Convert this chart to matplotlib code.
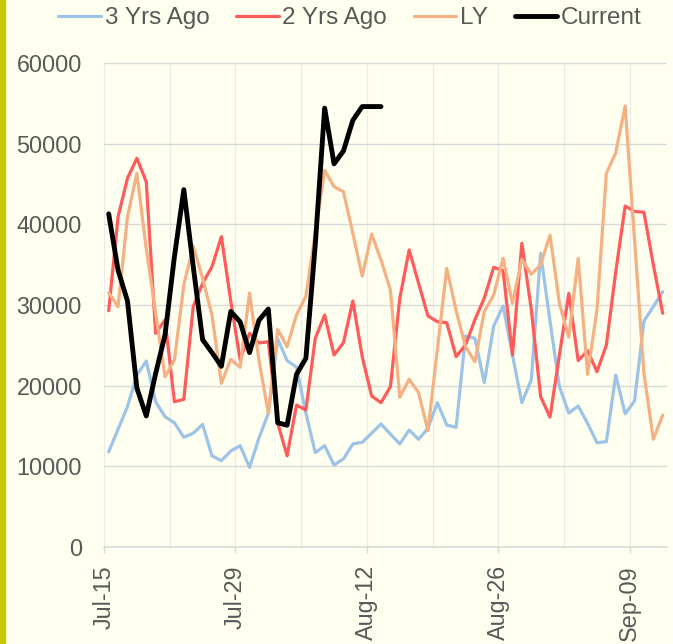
import numpy as np
import pandas as pd
import matplotlib
matplotlib.use('Agg')
import matplotlib.pyplot as plt
from matplotlib.patches import Rectangle

# daily values, starting Jul-15
dates = pd.date_range('2023-07-15', periods=60, freq='D')

three_yrs_ago = [11800, 14600, 17400, 21300, 23050, 18000, 16150, 15400, 13600, 14100,
                 15200, 11300, 10700, 11900, 12560, 9880, 13500, 16570, 25800, 23100,
                 22300, 16600, 11700, 12560, 10170, 10910, 12770, 12980, 14100, 15250,
                 14000, 12770, 14500, 13350, 14710, 17890, 15120, 14840, 26150, 25870,
                 20370, 27390, 29870, 23800, 17890, 20700, 36400, 28000, 19870, 16600,
                 17480, 15330, 12930, 13050, 21320, 16500, 18100, 28000, 29800, 31650]

two_yrs_ago = [29290, 40950, 45710, 48190, 45280, 26490, 28140, 18010, 18300, 29790,
               32680, 34750, 38470, 30500, 23180, 26490, 25290, 25450, 15370, 11300,
               17600, 16980, 25870, 28760, 23800, 25330, 30500, 23590, 18720, 17890,
               19870, 30830, 36820, 32700, 28640, 27930, 27810, 23590, 25040, 28180,
               30860, 34670, 34260, 23800, 37650, 29500, 18640, 16100, 23800, 31440,
               23100, 24340, 21730, 25040, 34130, 42270, 41600, 41490, 35000, 28970]

ly = [31530, 29790, 40950, 46320, 37000, 29000, 21110, 23180, 32480, 37310,
      33300, 28760, 20290, 23270, 22270, 31500, 23180, 16570, 26980, 24830,
      28760, 31100, 39000, 46700, 44660, 44040, 38890, 33590, 38800, 35580,
      31860, 18560, 20790, 19130, 14420, 24500, 34550, 29300, 24830, 22970,
      29170, 31240, 35790, 30210, 35670, 33800, 35000, 38680, 30210, 26000,
      35790, 21400, 29400, 46320, 48880, 54670, 38100, 21530, 13350, 16360]

current = [41300, 34300, 30500, 19700, 16250, 21500, 26300, 36000, 44300, 34800,
           25700, 24100, 22400, 29200, 27900, 24100, 28100, 29500, 15400, 15100,
           21400, 23400, 37500, 54400, 47500, 49100, 52900, 54600, 54600, 54600]

plt.rcParams['font.family'] = ['Liberation Sans', 'DejaVu Sans']
bg = '#FFFFF0'
txt = '#595959'

fig = plt.figure(figsize=(6.73, 6.44), dpi=100, facecolor=bg)
ax = fig.add_axes([104/673, 97/644, 563.4/673, 484/644])
ax.set_facecolor(bg)

# points sit in the middle of each day
x = dates + pd.Timedelta(hours=12)
kw = dict(solid_joinstyle='round', solid_capstyle='round')
ax.plot(x, three_yrs_ago, color='#9DC3E6', lw=2.3, label='3 Yrs Ago', **kw)
ax.plot(x, two_yrs_ago, color='#FF5B5B', lw=2.3, label='2 Yrs Ago', **kw)
ax.plot(x, ly, color='#F4B183', lw=2.3, label='LY', **kw)
ax.plot(x[:len(current)], current, color='black', lw=3.5, label='Current', **kw)

ax.set_ylim(0, 60000)
ax.set_yticks(np.arange(0, 60001, 10000))
ax.set_xlim(dates[0], dates[0] + pd.Timedelta(days=60))
ax.set_xticks(dates[::14])
ax.set_xticklabels([d.strftime('%b-%d') for d in dates[::14]], rotation=90)
ax.set_xticks(dates[7::14], minor=True)

ax.grid(axis='y', color='#D9D9D9', lw=1.0)
ax.grid(axis='x', which='both', color='#EBEBEB', lw=1.0)
ax.set_axisbelow(True)

for s in ['top', 'right', 'left']:
    ax.spines[s].set_visible(False)
ax.spines['bottom'].set_color('#D9D9D9')
ax.spines['bottom'].set_linewidth(1.1)

ax.tick_params(axis='y', length=0, pad=16, labelsize=16.8, labelcolor=txt)
ax.tick_params(axis='x', which='major', length=4, width=1, color='#D9D9D9',
               pad=9, labelsize=16.8, labelcolor=txt)
ax.tick_params(axis='x', which='minor', length=0)

fig.legend(loc='center', bbox_to_anchor=(0.52, 1 - 18/644), ncol=4, frameon=False,
           fontsize=17.5, handlelength=1.75, handletextpad=0.15, columnspacing=1.1,
           labelcolor=txt)

fig.patches.append(Rectangle((0, 0), 5/673, 1, transform=fig.transFigure,
                             color='#C8C800', zorder=5))

fig.savefig('out.png', dpi=100, facecolor=bg)
